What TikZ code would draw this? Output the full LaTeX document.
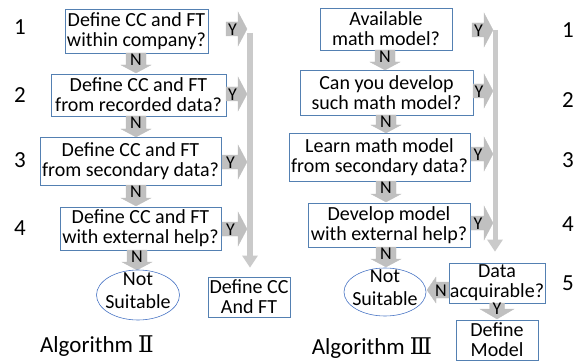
\documentclass[tikz,border=0pt]{standalone}
\usepackage{fontspec}
\setmainfont{Carlito}
\newfontfamily\romanfont{DejaVu Serif}
\usetikzlibrary{arrows.meta}
\definecolor{boxblue}{RGB}{84,128,178}
\definecolor{ellblue}{RGB}{72,116,196}
\definecolor{arrowgray}{RGB}{192,192,192}
\definecolor{bargray}{RGB}{202,202,202}
% block arrows: name, x, y top, y tip, label
\newcommand{\blockdown}[5]{%
  \filldraw[arrowgray,draw=black!25,line width=0.3pt] (#2-10,#3) -- (#2+10,#3) -- (#2+10,#4-8) -- (#2+15,#4-8)
    -- (#2,#4) -- (#2-15,#4-8) -- (#2-10,#4-8) -- cycle;
  \node[flag] (#1) at (#2,#3+7) {#5};}
% name, x start, x tip, y centre, label
\newcommand{\blockright}[5]{%
  \filldraw[arrowgray,draw=black!25,line width=0.3pt] (#2,#4-7) -- (#3-9,#4-7) -- (#3-9,#4-17) -- (#3,#4)
    -- (#3-9,#4+17) -- (#3-9,#4+7) -- (#2,#4+7) -- cycle;
  \node[flag] (#1) at (#2/2+#3/2-4,#4+1) {#5};}
\begin{document}
\begin{tikzpicture}[x=1pt,y=-1pt,
        qbox/.style={draw=boxblue,line width=0.6pt,align=center,inner sep=0pt,font=\fontsize{20}{20}\selectfont},
        nsuit/.style={align=center,inner sep=0pt,font=\fontsize{20}{23}\selectfont},
        flag/.style={inner sep=0pt,font=\fontsize{18}{18}\selectfont},
        bar/.style={bargray,line width=6pt,-{Triangle[width=15pt,length=12pt]}},
        numlabel/.style={font=\fontsize{23}{23}\selectfont}]
    \useasboundingbox (0,0) rectangle (579,361);
    % Algorithm II
    \node[numlabel] (l1) at (20,27) {1};
    \node[numlabel] (l2) at (20,95) {2};
    \node[numlabel] (l3) at (20,160) {3};
    \node[numlabel] (l4) at (20,228) {4};
    \node[qbox,minimum width=143pt,minimum height=44pt] (q1) at (136.5,31) {Define CC and FT\\within company?};
    \node[qbox,minimum width=175pt,minimum height=42pt] (q2) at (138.5,95) {Define CC and FT\\from recorded data?};
    \node[qbox,minimum width=181pt,minimum height=48pt] (q3) at (130.5,161) {Define CC and FT\\from secondary data?};
    \node[qbox,minimum width=161pt,minimum height=43pt] (q4) at (140.5,228.5) {Define CC and FT\\with external help?};
    \blockdown{qn1}{136}{53}{73}{N}
    \blockdown{qn2}{136}{116}{137}{N}
    \blockdown{qn3}{136}{185}{206}{N}
    \blockdown{qn4}{137}{250}{270}{N}
    \blockright{qy1}{226}{247}{29}{Y}
    \blockright{qy2}{226}{247}{94}{Y}
    \blockright{qy3}{222}{247}{162}{Y}
    \blockright{qy4}{222}{247}{229}{Y}
    \node[nsuit] (ns1) at (138,291) {Not\\Suitable};
    \draw[ellblue,line width=0.6pt] ([yshift=-4pt]ns1.center) ellipse [x radius=41.5pt, y radius=25pt];
    \node[qbox,minimum width=82pt,minimum height=40pt] (res1) at (249,297) {Define CC\\And FT};
    \coordinate (top1) at (250,33);
    \draw[bar,shorten >=9pt] (top1) -- (top1 |- res1.north);
    \node[numlabel] (alg2) at (97,346) {Algorithm {\romanfont Ⅱ}};
    % Algorithm III
    \node[qbox,minimum width=132pt,minimum height=42pt] (r1) at (386,29) {Available\\math model?};
    \node[qbox,minimum width=173pt,minimum height=45pt] (r2) at (386.5,92.5) {Can you develop\\such math model?};
    \node[qbox,minimum width=181pt,minimum height=48pt] (r3) at (379.5,157) {Learn math model\\from secondary data?};
    \node[qbox,minimum width=162pt,minimum height=44pt] (r4) at (389,225) {Develop model\\with external help?};
    \blockdown{rn1}{385}{50}{70}{N}
    \blockdown{rn2}{386}{115}{133}{N}
    \blockdown{rn3}{386}{181}{202}{N}
    \blockdown{rn4}{386}{247}{267}{N}
    \blockright{ry1}{472}{493}{30}{Y}
    \blockright{ry2}{473}{493}{91}{Y}
    \blockright{ry3}{471}{493}{154}{Y}
    \blockright{ry4}{471}{493}{223}{Y}
    \node[nsuit] (ns2) at (385,288) {Not\\Suitable};
    \draw[ellblue,line width=0.6pt] ([yshift=-4pt]ns2.center) ellipse [x radius=41pt, y radius=24pt];
    \node[qbox,minimum width=96pt,minimum height=40pt] (dat) at (497,283) {Data\\acquirable?};
    % N to the left of the data box, Y below it
    \filldraw[arrowgray,draw=black!25,line width=0.3pt] (449,282) -- (436,282) -- (436,277) -- (427,290)
        -- (436,303) -- (436,298) -- (449,298) -- cycle;
    \node[flag] (dn) at (441,291) {N};
    \filldraw[arrowgray,draw=black!25,line width=0.3pt] (489.5,303) -- (504.5,303) -- (504.5,309) -- (514,309)
        -- (497,319) -- (480,309) -- (489.5,309) -- cycle;
    \node[flag] (dy) at (497,309) {Y};
    \node[qbox,minimum width=82pt,minimum height=40pt] (res2) at (497,340) {Define\\Model};
    \coordinate (top2) at (495,30);
    \draw[bar,line width=5pt,shorten >=11pt] (top2) -- (top2 |- dat.north);
    \node[numlabel] (m1) at (568,30) {1};
    \node[numlabel] (m2) at (568,100) {2};
    \node[numlabel] (m3) at (568,160) {3};
    \node[numlabel] (m4) at (568,224) {4};
    \node[numlabel] (m5) at (568,283) {5};
    \node[numlabel] (alg3) at (372,348) {Algorithm {\romanfont Ⅲ}};
\end{tikzpicture}
\end{document}
